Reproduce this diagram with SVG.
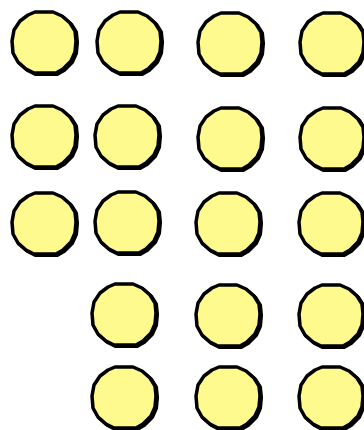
<svg xmlns="http://www.w3.org/2000/svg" xmlns:xlink="http://www.w3.org/1999/xlink" width="364" height="430" viewBox="0 0 364 430">
<style>
.sh{fill:none;stroke:#000;stroke-width:3.5;stroke-linejoin:round}
.bd{fill:#FFFA8E;stroke:#000;stroke-width:3.5;stroke-linejoin:round}
</style>
<defs>
<path id="oct" d="M -9,-31 L 9,-31 L 18,-27 L 26,-20 L 31,-12 L 32,-2 L 31,9 L 27,18 L 19,26 L 12,30 L -10,30 L -18,26 L -26,19 L -31,10 L -32,-2 L -30,-13 L -24,-22 L -16,-28 Z"/>
<g id="dot">
<use xlink:href="#oct" href="#oct" class="sh" transform="translate(1.3,1.3)"/>
<use xlink:href="#oct" href="#oct" class="bd"/>
</g>
</defs>
<rect width="364" height="430" fill="#fff"/>
<g id="connectors"/>
<g id="n1_1"><use href="#dot" xlink:href="#dot" x="44" y="43"/></g>
<g id="n1_2"><use href="#dot" xlink:href="#dot" x="129" y="43"/></g>
<g id="n1_3"><use href="#dot" xlink:href="#dot" x="230" y="44"/></g>
<g id="n1_4"><use href="#dot" xlink:href="#dot" x="332" y="44"/></g>
<g id="n2_1"><use href="#dot" xlink:href="#dot" x="44" y="137"/></g>
<g id="n2_2"><use href="#dot" xlink:href="#dot" x="127" y="137"/></g>
<g id="n2_3"><use href="#dot" xlink:href="#dot" x="230" y="139"/></g>
<g id="n2_4"><use href="#dot" xlink:href="#dot" x="332" y="139"/></g>
<g id="n3_1"><use href="#dot" xlink:href="#dot" x="44" y="224"/></g>
<g id="n3_2"><use href="#dot" xlink:href="#dot" x="127" y="223"/></g>
<g id="n3_3"><use href="#dot" xlink:href="#dot" x="228" y="224"/></g>
<g id="n3_4"><use href="#dot" xlink:href="#dot" x="331" y="224"/></g>
<g id="n4_2"><use href="#dot" xlink:href="#dot" x="124" y="315"/></g>
<g id="n4_3"><use href="#dot" xlink:href="#dot" x="228" y="316"/></g>
<g id="n4_4"><use href="#dot" xlink:href="#dot" x="331" y="316"/></g>
<g id="n5_2"><use href="#dot" xlink:href="#dot" x="124" y="398"/></g>
<g id="n5_3"><use href="#dot" xlink:href="#dot" x="228" y="398"/></g>
<g id="n5_4"><use href="#dot" xlink:href="#dot" x="331" y="398"/></g>
</svg>
